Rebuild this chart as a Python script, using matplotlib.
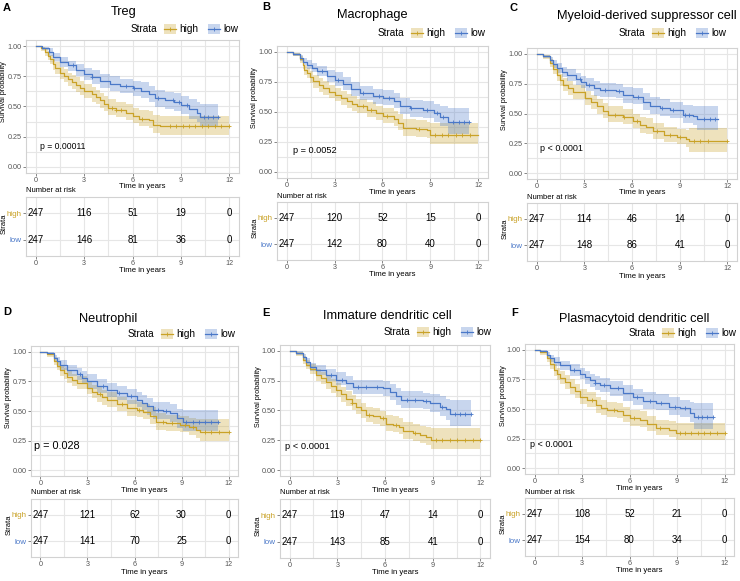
import numpy as np
import matplotlib
matplotlib.use("Agg")
import matplotlib.pyplot as plt
from matplotlib.patches import Rectangle
from matplotlib.lines import Line2D

plt.rcParams['font.family'] = ['Liberation Sans', 'DejaVu Sans']

# цвета групп
high_col = '#C9A227'
low_col = '#4A78C8'

# кривые Каплана-Мейера: (время, выживаемость, нижняя граница, верхняя граница)
treg_high = [(0, 1, 1, 1), (0.3, 0.98, 0.96, 0.995), (0.6, 0.95, 0.92, 0.98), (0.75, 0.92, 0.885, 0.955),
             (0.9, 0.89, 0.85, 0.93), (1.05, 0.85, 0.805, 0.895), (1.2, 0.82, 0.77, 0.87), (1.5, 0.78, 0.73, 0.83),
             (1.75, 0.755, 0.70, 0.81), (2.0, 0.73, 0.67, 0.78), (2.25, 0.70, 0.645, 0.76), (2.5, 0.68, 0.62, 0.74),
             (2.75, 0.655, 0.595, 0.715), (3.0, 0.63, 0.57, 0.69), (3.5, 0.60, 0.54, 0.66), (3.75, 0.58, 0.52, 0.64),
             (4.0, 0.55, 0.49, 0.61), (4.25, 0.52, 0.46, 0.585), (4.5, 0.49, 0.43, 0.56), (5.0, 0.47, 0.41, 0.54),
             (5.6, 0.45, 0.39, 0.52), (6.0, 0.42, 0.36, 0.49), (6.4, 0.40, 0.34, 0.47), (7.0, 0.385, 0.32, 0.46),
             (7.3, 0.35, 0.28, 0.43), (7.7, 0.335, 0.265, 0.42), (12.0, 0.335, 0.265, 0.42)]
treg_low = [(0, 1, 1, 1), (0.4, 0.98, 0.965, 0.995), (0.8, 0.95, 0.92, 0.98), (1.1, 0.91, 0.875, 0.945),
            (1.5, 0.87, 0.83, 0.91), (2.0, 0.84, 0.79, 0.88), (2.5, 0.80, 0.75, 0.85), (3.0, 0.77, 0.72, 0.82),
            (3.5, 0.74, 0.69, 0.80), (4.0, 0.71, 0.65, 0.77), (4.6, 0.69, 0.63, 0.75), (5.2, 0.67, 0.61, 0.73),
            (6.0, 0.65, 0.59, 0.71), (6.5, 0.63, 0.57, 0.70), (7.0, 0.60, 0.54, 0.67), (7.4, 0.57, 0.50, 0.64),
            (8.0, 0.55, 0.48, 0.62), (8.6, 0.535, 0.465, 0.61), (9.0, 0.51, 0.44, 0.59), (9.5, 0.48, 0.40, 0.56),
            (10.0, 0.45, 0.37, 0.54), (10.2, 0.41, 0.33, 0.52), (11.3, 0.41, 0.33, 0.52)]

mac_high = [(0, 1, 1, 1), (0.4, 0.98, 0.965, 0.995), (0.83, 0.94, 0.91, 0.97), (1.0, 0.89, 0.855, 0.925),
            (1.12, 0.85, 0.81, 0.89), (1.25, 0.825, 0.78, 0.87), (1.45, 0.79, 0.74, 0.84), (1.67, 0.755, 0.70, 0.81),
            (2.0, 0.725, 0.67, 0.78), (2.3, 0.70, 0.64, 0.76), (2.65, 0.67, 0.615, 0.725), (3.0, 0.645, 0.59, 0.70),
            (3.4, 0.615, 0.56, 0.675), (3.75, 0.59, 0.53, 0.65), (4.1, 0.57, 0.51, 0.63), (4.4, 0.55, 0.49, 0.61),
            (5.0, 0.52, 0.46, 0.58), (5.6, 0.49, 0.43, 0.55), (6.05, 0.47, 0.41, 0.53), (6.7, 0.44, 0.38, 0.51),
            (7.0, 0.41, 0.35, 0.48), (7.3, 0.37, 0.30, 0.44), (8.1, 0.36, 0.29, 0.43), (8.8, 0.35, 0.28, 0.42),
            (9.0, 0.305, 0.23, 0.41), (12.0, 0.305, 0.22, 0.41)]
mac_low = [(0, 1, 1, 1), (0.4, 0.98, 0.965, 0.995), (0.83, 0.95, 0.925, 0.975), (1.05, 0.92, 0.89, 0.95),
           (1.25, 0.895, 0.86, 0.93), (1.6, 0.865, 0.83, 0.905), (1.9, 0.84, 0.80, 0.88), (2.5, 0.80, 0.75, 0.85),
           (3.0, 0.77, 0.72, 0.83), (3.55, 0.73, 0.68, 0.79), (4.0, 0.69, 0.63, 0.75), (4.6, 0.66, 0.60, 0.72),
           (5.4, 0.63, 0.57, 0.69), (6.05, 0.62, 0.56, 0.68), (6.7, 0.59, 0.53, 0.66), (7.1, 0.55, 0.48, 0.62),
           (7.7, 0.53, 0.46, 0.60), (8.55, 0.52, 0.45, 0.59), (9.2, 0.49, 0.42, 0.57), (9.6, 0.46, 0.38, 0.55),
           (10.1, 0.415, 0.32, 0.53), (11.4, 0.415, 0.32, 0.53)]

mdsc_high = [(0, 1, 1, 1), (0.42, 0.98, 0.96, 0.995), (0.84, 0.92, 0.89, 0.955), (1.05, 0.87, 0.83, 0.91),
             (1.26, 0.82, 0.77, 0.87), (1.47, 0.78, 0.73, 0.83), (1.68, 0.74, 0.69, 0.80), (2.0, 0.71, 0.655, 0.77),
             (2.3, 0.68, 0.62, 0.74), (3.04, 0.63, 0.57, 0.69), (3.4, 0.595, 0.535, 0.655), (3.8, 0.56, 0.50, 0.62),
             (4.15, 0.525, 0.465, 0.59), (4.5, 0.49, 0.43, 0.56), (5.45, 0.47, 0.41, 0.54), (6.08, 0.44, 0.38, 0.50),
             (6.5, 0.40, 0.34, 0.47), (6.9, 0.39, 0.33, 0.46), (7.34, 0.35, 0.29, 0.42), (8.0, 0.32, 0.26, 0.39),
             (8.8, 0.305, 0.24, 0.37), (9.4, 0.29, 0.22, 0.36), (9.6, 0.265, 0.18, 0.38), (12.0, 0.265, 0.18, 0.38)]
mdsc_low = [(0, 1, 1, 1), (0.42, 0.98, 0.965, 0.995), (0.84, 0.95, 0.925, 0.975), (1.05, 0.915, 0.88, 0.95),
            (1.26, 0.88, 0.84, 0.92), (1.6, 0.85, 0.81, 0.89), (1.9, 0.82, 0.77, 0.87), (2.5, 0.79, 0.74, 0.84),
            (2.8, 0.765, 0.715, 0.815), (3.1, 0.74, 0.69, 0.80), (3.6, 0.71, 0.65, 0.77), (4.0, 0.70, 0.64, 0.76),
            (5.0, 0.685, 0.63, 0.75), (5.45, 0.655, 0.59, 0.72), (6.08, 0.64, 0.58, 0.71), (6.7, 0.60, 0.53, 0.67),
            (7.1, 0.565, 0.50, 0.64), (7.75, 0.55, 0.48, 0.62), (8.4, 0.53, 0.46, 0.60), (9.2, 0.49, 0.42, 0.57),
            (9.85, 0.475, 0.40, 0.56), (10.1, 0.455, 0.36, 0.56), (11.4, 0.455, 0.36, 0.56)]

neu_high = [(0, 1, 1, 1), (0.42, 0.98, 0.96, 0.995), (0.85, 0.92, 0.89, 0.955), (1.05, 0.885, 0.845, 0.925),
            (1.27, 0.85, 0.80, 0.89), (1.5, 0.82, 0.77, 0.865), (1.7, 0.79, 0.74, 0.84), (2.0, 0.765, 0.715, 0.815),
            (2.33, 0.74, 0.69, 0.80), (2.96, 0.695, 0.64, 0.75), (3.3, 0.665, 0.61, 0.72), (3.6, 0.64, 0.58, 0.70),
            (3.9, 0.615, 0.555, 0.675), (4.23, 0.595, 0.53, 0.66), (4.87, 0.56, 0.50, 0.62), (5.5, 0.525, 0.46, 0.59),
            (6.14, 0.51, 0.45, 0.58), (6.56, 0.49, 0.43, 0.56), (7.0, 0.455, 0.39, 0.53), (7.4, 0.41, 0.34, 0.48),
            (8.0, 0.40, 0.33, 0.47), (8.9, 0.385, 0.32, 0.46), (9.5, 0.365, 0.30, 0.44), (9.95, 0.34, 0.27, 0.43),
            (10.2, 0.325, 0.245, 0.43), (12.0, 0.325, 0.245, 0.43)]
neu_low = [(0, 1, 1, 1), (0.42, 0.99, 0.975, 1.0), (0.85, 0.95, 0.925, 0.975), (1.05, 0.92, 0.885, 0.955),
           (1.27, 0.89, 0.85, 0.93), (1.7, 0.85, 0.80, 0.89), (2.33, 0.81, 0.76, 0.86), (2.65, 0.78, 0.73, 0.835),
           (2.96, 0.75, 0.69, 0.81), (3.6, 0.71, 0.65, 0.77), (4.23, 0.68, 0.62, 0.74), (4.87, 0.65, 0.59, 0.71),
           (5.5, 0.625, 0.56, 0.69), (6.14, 0.595, 0.53, 0.66), (6.45, 0.57, 0.505, 0.635), (6.77, 0.54, 0.47, 0.61),
           (7.2, 0.505, 0.43, 0.58), (7.8, 0.50, 0.43, 0.58), (8.25, 0.48, 0.41, 0.56), (8.7, 0.44, 0.36, 0.52),
           (9.1, 0.41, 0.33, 0.51), (11.3, 0.41, 0.33, 0.51)]

idc_high = [(0, 1, 1, 1), (0.42, 0.98, 0.96, 0.995), (0.84, 0.92, 0.89, 0.955), (1.05, 0.885, 0.85, 0.92),
            (1.26, 0.85, 0.81, 0.89), (1.68, 0.80, 0.75, 0.85), (2.0, 0.77, 0.72, 0.825), (2.3, 0.74, 0.68, 0.80),
            (2.6, 0.705, 0.645, 0.765), (2.94, 0.67, 0.61, 0.73), (3.25, 0.635, 0.575, 0.695), (3.57, 0.60, 0.54, 0.66),
            (3.9, 0.565, 0.505, 0.63), (4.2, 0.53, 0.47, 0.60), (4.5, 0.50, 0.435, 0.565), (4.8, 0.465, 0.40, 0.53),
            (5.24, 0.455, 0.39, 0.52), (5.66, 0.435, 0.37, 0.50), (6.08, 0.39, 0.33, 0.46), (6.5, 0.38, 0.32, 0.45),
            (6.9, 0.365, 0.30, 0.44), (7.13, 0.325, 0.26, 0.40), (7.76, 0.31, 0.245, 0.385), (8.2, 0.295, 0.23, 0.37),
            (8.6, 0.28, 0.21, 0.36), (8.9, 0.25, 0.175, 0.35), (12.0, 0.25, 0.175, 0.35)]
idc_low = [(0, 1, 1, 1), (0.42, 0.985, 0.97, 1.0), (0.84, 0.95, 0.925, 0.975), (1.05, 0.905, 0.87, 0.94),
           (1.26, 0.865, 0.83, 0.90), (1.68, 0.84, 0.80, 0.88), (2.3, 0.80, 0.75, 0.85), (2.94, 0.76, 0.71, 0.82),
           (3.57, 0.73, 0.67, 0.79), (4.0, 0.70, 0.64, 0.76), (5.24, 0.695, 0.635, 0.755), (5.87, 0.685, 0.62, 0.75),
           (6.3, 0.655, 0.59, 0.72), (6.7, 0.62, 0.55, 0.69), (7.0, 0.59, 0.52, 0.66), (8.4, 0.58, 0.51, 0.65),
           (8.8, 0.56, 0.49, 0.64), (9.44, 0.53, 0.45, 0.62), (9.86, 0.51, 0.42, 0.60), (10.1, 0.47, 0.37, 0.59),
           (11.4, 0.47, 0.37, 0.59)]

pdc_high = [(0, 1, 1, 1), (0.36, 0.98, 0.96, 0.995), (0.78, 0.93, 0.90, 0.96), (1.0, 0.88, 0.84, 0.92),
            (1.2, 0.83, 0.78, 0.88), (1.4, 0.795, 0.745, 0.845), (1.6, 0.76, 0.71, 0.82), (1.9, 0.725, 0.67, 0.785),
            (2.25, 0.69, 0.63, 0.75), (2.55, 0.65, 0.59, 0.71), (2.87, 0.605, 0.54, 0.67), (3.3, 0.58, 0.52, 0.64),
            (3.9, 0.535, 0.47, 0.60), (4.2, 0.51, 0.45, 0.575), (4.55, 0.49, 0.43, 0.56), (5.2, 0.48, 0.42, 0.55),
            (5.6, 0.45, 0.39, 0.52), (6.0, 0.42, 0.36, 0.49), (6.65, 0.41, 0.35, 0.48), (7.1, 0.37, 0.31, 0.44),
            (7.7, 0.34, 0.28, 0.41), (8.5, 0.325, 0.26, 0.40), (8.96, 0.30, 0.235, 0.38), (12.0, 0.30, 0.23, 0.38)]
pdc_low = [(0, 1, 1, 1), (0.36, 0.99, 0.975, 1.0), (0.78, 0.96, 0.935, 0.985), (1.0, 0.93, 0.90, 0.96),
           (1.2, 0.90, 0.86, 0.94), (1.6, 0.87, 0.83, 0.91), (2.25, 0.83, 0.78, 0.88), (2.87, 0.80, 0.75, 0.85),
           (3.2, 0.77, 0.715, 0.825), (3.5, 0.745, 0.69, 0.80), (3.8, 0.72, 0.665, 0.78), (4.13, 0.70, 0.64, 0.76),
           (4.76, 0.675, 0.61, 0.74), (5.6, 0.635, 0.57, 0.70), (6.23, 0.60, 0.53, 0.67), (6.86, 0.565, 0.50, 0.64),
           (7.7, 0.555, 0.49, 0.63), (8.5, 0.52, 0.45, 0.60), (9.17, 0.505, 0.43, 0.58), (9.8, 0.47, 0.39, 0.56),
           (10.05, 0.43, 0.33, 0.55), (11.3, 0.43, 0.33, 0.55)]

# цензурированные наблюдения (время)
treg_high_cens = [4.7, 5.0, 5.3, 6.6, 8.3, 8.7, 9.1, 9.5, 9.9, 10.3, 10.7, 11.1, 11.5, 12.0]
treg_low_cens = [2.3, 3.5, 5.6, 6.1, 7.6, 8.5, 8.9, 9.4, 10.4, 10.7, 11.0, 11.3]
mac_high_cens = [4.8, 5.3, 6.3, 8.3, 9.3, 9.7, 10.1, 10.6, 11.0, 11.5]
mac_low_cens = [2.2, 3.2, 4.8, 5.8, 6.4, 7.8, 8.8, 9.4, 9.8, 10.4, 10.8, 11.1, 11.4]
mdsc_high_cens = [4.9, 5.5, 6.3, 7.6, 8.4, 9.0, 9.9, 10.3, 10.8, 12.0]
mdsc_low_cens = [2.7, 3.3, 4.3, 5.2, 6.4, 7.9, 8.6, 9.3, 9.6, 10.5, 10.9, 11.2]
neu_high_cens = [3.8, 5.2, 6.3, 7.8, 8.4, 9.2, 9.7, 10.5, 10.9, 11.4, 12.0]
neu_low_cens = [2.5, 4.0, 5.0, 5.8, 7.5, 8.0, 9.3, 9.7, 10.1, 10.5, 10.9, 11.3]
idc_high_cens = [3.9, 5.0, 5.9, 6.7, 7.9, 9.2, 9.6, 10.1, 10.5, 11.0, 11.5, 12.0]
idc_low_cens = [2.6, 3.3, 4.3, 4.8, 5.5, 7.4, 7.9, 8.6, 9.6, 10.4, 10.7, 11.0, 11.4]
pdc_high_cens = [3.6, 5.0, 6.3, 7.9, 9.2, 9.5, 9.9, 10.3, 10.7, 11.1, 11.5, 12.0]
pdc_low_cens = [2.5, 3.8, 4.4, 5.3, 6.5, 7.3, 8.0, 8.9, 9.5, 10.3, 10.6, 10.9, 11.3]

# число под риском
risk_times = [0, 3, 6, 9, 12]
treg_risk_high = [247, 116, 51, 19, 0]
treg_risk_low = [247, 146, 81, 36, 0]
mac_risk_high = [247, 120, 52, 15, 0]
mac_risk_low = [247, 142, 80, 40, 0]
mdsc_risk_high = [247, 114, 46, 14, 0]
mdsc_risk_low = [247, 148, 86, 41, 0]
neu_risk_high = [247, 121, 62, 30, 0]
neu_risk_low = [247, 141, 70, 25, 0]
idc_risk_high = [247, 119, 47, 14, 0]
idc_risk_low = [247, 143, 85, 41, 0]
pdc_risk_high = [247, 108, 52, 21, 0]
pdc_risk_low = [247, 154, 80, 34, 0]

W, H = 740, 581
fig = plt.figure(figsize=(W / 100, H / 100), dpi=100)


def fx(x):
    return x / W


def fy(y):
    return 1 - y / H


def px_axes(l, t, r, b):
    return fig.add_axes([l / W, 1 - b / H, (r - l) / W, (b - t) / H])


def style(ax):
    ax.set_xlim(-0.6, 12.6)
    ax.set_xticks(risk_times)
    ax.set_xticks([1.5, 4.5, 7.5, 10.5], minor=True)
    ax.grid(True, which='both', color='#e6e6e6', lw=0.8)
    ax.set_axisbelow(True)
    for sp in ax.spines.values():
        sp.set_color('#d2d2d2')
        sp.set_linewidth(0.8)
    ax.tick_params(which='major', length=2, width=0.5, color='#555555',
                   labelsize=5.2, labelcolor='#555555', pad=1.2)
    ax.tick_params(which='minor', length=0)


def panel(letter, letter_xy, title, title_xy, title_ha, box, leg_xy, pval, p_xy, p_size,
          high, low, cens_h, cens_l, rbox, n_high, n_low):
    l, t, r, b = box
    ax = px_axes(l, t, r, b)
    style(ax)
    ax.set_ylim(-0.05, 1.05)
    ax.set_yticks([0, 0.25, 0.5, 0.75, 1.0])
    ax.set_yticklabels(['0.00', '0.25', '0.50', '0.75', '1.00'])
    ax.set_yticks([0.125, 0.375, 0.625, 0.875], minor=True)
    for data, cens, col in ((high, cens_h, high_col), (low, cens_l, low_col)):
        tt = np.array([d[0] for d in data])
        ss = np.array([d[1] for d in data])
        lo = [d[2] for d in data]
        hi = [d[3] for d in data]
        ax.fill_between(tt, lo, hi, step='post', color=col, alpha=0.3, lw=0)
        ax.step(tt, ss, where='post', color=col, lw=0.9)
        idx = np.searchsorted(tt, cens, side='right') - 1
        ax.plot(cens, ss[idx], '+', color=col, ms=3, mew=0.6)
    ax.text(p_xy[0], p_xy[1], pval, ha='left', va='center', fontsize=p_size)

    fig.text(fx(letter_xy[0]), fy(letter_xy[1]), letter, fontsize=8, fontweight='bold', va='center')
    fig.text(fx(title_xy[0]), fy(title_xy[1]), title, fontsize=9.2, ha=title_ha, va='center')
    fig.text(fx(l - 22), fy(t + 52), 'Survival probability', rotation=90, fontsize=5.2, ha='center', va='center')
    fig.text(fx((l + r) / 2 + 10), fy(b + 14), 'Time in years', fontsize=5.6, ha='center', va='center')

    # легенда
    R, y = leg_xy
    fig.text(fx(R - 82), fy(y), 'Strata', fontsize=7.2, ha='right', va='center')
    for x0, lab, col in ((R - 75, 'high', high_col), (R - 31, 'low', low_col)):
        fig.add_artist(Rectangle((fx(x0), fy(y + 5)), 12 / W, 10 / H, transform=fig.transFigure,
                                 facecolor=col, alpha=0.3, lw=0))
        fig.add_artist(Line2D([fx(x0), fx(x0 + 12)], [fy(y), fy(y)], transform=fig.transFigure,
                              color=col, lw=0.9))
        fig.add_artist(Line2D([fx(x0 + 6)], [fy(y)], transform=fig.transFigure, color=col,
                              marker='+', ms=3, mew=0.6))
        fig.text(fx(x0 + 15), fy(y), lab, fontsize=7.2, ha='left', va='center')

    # таблица числа под риском
    rl, rt, rr, rb = rbox
    rax = px_axes(rl, rt, rr, rb)
    style(rax)
    rax.set_ylim(0.4, 2.6)
    rax.set_yticks([1, 2])
    rax.set_yticklabels(['low', 'high'])
    for lab, col in zip(rax.get_yticklabels(), [low_col, high_col]):
        lab.set_color(col)
        lab.set_fontsize(5.8)
    for x, nh, nl in zip(risk_times, n_high, n_low):
        rax.text(x, 2, str(nh), ha='center', va='center', fontsize=7)
        rax.text(x, 1, str(nl), ha='center', va='center', fontsize=7)
    fig.text(fx(rl), fy(rt - 6), 'Number at risk', fontsize=5.5, ha='left', va='center')
    fig.text(fx(rl - 22), fy((rt + rb) / 2 - 3), 'Strata', rotation=90, fontsize=5.5, ha='center', va='center')
    fig.text(fx((rl + rr) / 2 + 10), fy(rb + 15), 'Time in years', fontsize=5.6, ha='center', va='center')


panel('A', (3, 8), 'Treg', (124, 12), 'center', (26, 40, 239, 173), (239, 29),
      'p = 0.00011', (0.25, 0.17), 6.2, treg_high, treg_low, treg_high_cens, treg_low_cens,
      (26, 197, 239, 256), treg_risk_high, treg_risk_low)
panel('B', (262, 7), 'Macrophage', (372, 15), 'center', (277, 46, 488, 178), (486, 33),
      'p = 0.0052', (0.4, 0.18), 6.6, mac_high, mac_low, mac_high_cens, mac_low_cens,
      (277, 202, 488, 260), mac_risk_high, mac_risk_low)
panel('C', (510, 8), 'Myeloid-derived suppressor cell', (557, 16), 'left', (527, 48, 737, 179), (727, 33),
      'p < 0.0001', (0.2, 0.21), 6.5, mdsc_high, mdsc_low, mdsc_high_cens, mdsc_low_cens,
      (527, 203, 737, 261), mdsc_risk_high, mdsc_risk_low)
panel('D', (3, 312), 'Neutrophil', (108, 319), 'center', (31, 346, 238, 476), (236, 334),
      'p = 0.028', (-0.4, 0.2), 7.8, neu_high, neu_low, neu_high_cens, neu_low_cens,
      (31, 499, 238, 557), neu_risk_high, neu_risk_low)
panel('E', (262, 313), 'Immature dendritic cell', (387, 316), 'center', (280, 345, 490, 476), (492, 332),
      'p < 0.0001', (-0.3, 0.2), 6.7, idc_high, idc_low, idc_high_cens, idc_low_cens,
      (280, 499, 490, 558), idc_risk_high, idc_risk_low)
panel('F', (511, 313), 'Plasmacytoid dendritic cell', (634, 319), 'center', (525, 344, 734, 474), (737, 333),
      'p < 0.0001', (-0.27, 0.2), 6.5, pdc_high, pdc_low, pdc_high_cens, pdc_low_cens,
      (525, 498, 734, 556), pdc_risk_high, pdc_risk_low)

fig.savefig('out.png', dpi=100)
